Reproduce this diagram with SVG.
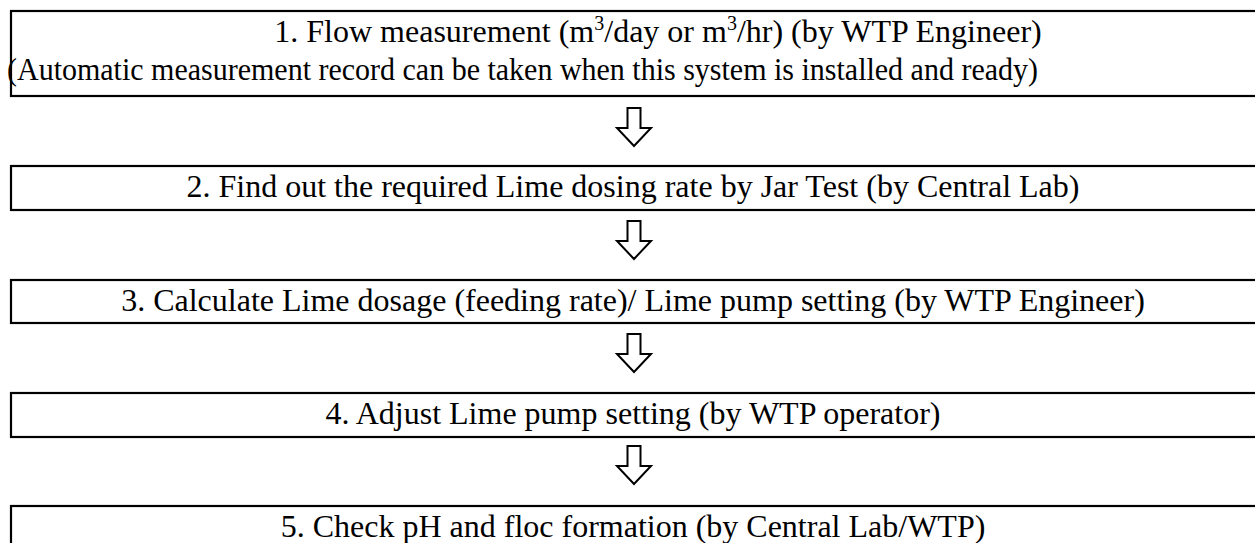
<svg xmlns="http://www.w3.org/2000/svg" width="1255" height="543" viewBox="0 0 1255 543">
  <defs>
    <style>
      .box { fill: #ffffff; stroke: #000000; stroke-width: 2.2; }
      .lbl { font-family: "Liberation Serif", "Times New Roman", serif; font-size: 32px; fill: #000000; }
      .sup { font-size: 20px; }
      .arrow { fill: #ffffff; stroke: #000000; stroke-width: 2; stroke-linejoin: miter; }
    </style>
    <!-- hollow down arrow, tip at (0,38) -->
    <path id="downArrow" d="M-6.5,0 H6.5 V20 H17 L0,38 L-17,20 H-6.5 Z"/>
  </defs>
  <rect width="1255" height="543" fill="#ffffff"/>

  <g id="step1">
    <rect class="box" x="11" y="11" width="1260" height="85"/>
    <text class="lbl" x="658" y="42" text-anchor="middle">1. Flow measurement (m<tspan class="sup" dy="-12">3</tspan><tspan dy="12">/day or m</tspan><tspan class="sup" dy="-12">3</tspan><tspan dy="12">/hr) (by WTP Engineer)</tspan></text>
    <text class="lbl" x="7" y="80" textLength="1031" lengthAdjust="spacingAndGlyphs">(Automatic measurement record can be taken when this system is installed and ready)</text>
  </g>

  <g id="step2">
    <rect class="box" x="11" y="166" width="1260" height="44"/>
    <text class="lbl" x="633" y="197" text-anchor="middle">2. Find out the required Lime dosing rate by Jar Test (by Central Lab)</text>
  </g>

  <g id="step3">
    <rect class="box" x="11" y="280" width="1260" height="43"/>
    <text class="lbl" x="633" y="311" text-anchor="middle">3. Calculate Lime dosage (feeding rate)/ Lime pump setting (by WTP Engineer)</text>
  </g>

  <g id="step4">
    <rect class="box" x="11" y="393" width="1260" height="44"/>
    <text class="lbl" x="633" y="424" text-anchor="middle">4. Adjust Lime pump setting (by WTP operator)</text>
  </g>

  <g id="step5">
    <rect class="box" x="11" y="506" width="1260" height="60"/>
    <text class="lbl" x="633" y="537" text-anchor="middle">5. Check pH and floc formation (by Central Lab/WTP)</text>
  </g>

  <g id="connectors">
    <use href="#downArrow" class="arrow" transform="translate(634,108)"/>
    <use href="#downArrow" class="arrow" transform="translate(634,221)"/>
    <use href="#downArrow" class="arrow" transform="translate(634,334)"/>
    <use href="#downArrow" class="arrow" transform="translate(634,446)"/>
  </g>
</svg>
